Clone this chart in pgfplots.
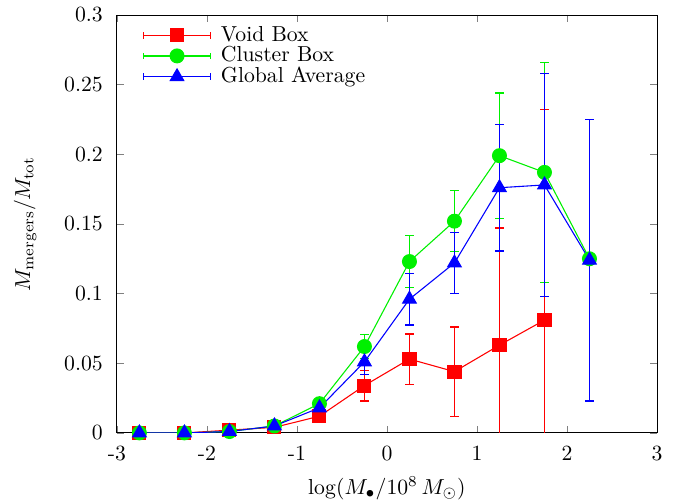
\documentclass[border=0pt]{standalone}
\usepackage{pgfplots}
\pgfplotsset{compat=1.18}
\definecolor{gpred}{RGB}{255,0,0}
\definecolor{gpgreen}{RGB}{0,240,0}
\definecolor{gpblue}{RGB}{0,0,255}
\begin{document}
\begin{tikzpicture}
\begin{axis}[
    width=249pt, height=192.7pt,
    scale only axis,
    xmin=-3, xmax=3,
    ymin=0, ymax=0.3,
    xtick={-3,-2,...,3},
    xticklabels={-3,-2,-1,0,1,2,3},
    ytick={0,0.05,...,0.3},
    yticklabels={0,0.05,0.1,0.15,0.2,0.25,0.3},
    xticklabel style={yshift=-2.5pt},
    yticklabel style={xshift=-3pt},
    tick align=inside,
    major tick length=3.4pt,
    xlabel={$\log(M_\bullet/10^8\,M_\odot)$},
    ylabel={$M_{\rm mergers}/M_{\rm tot}$},
    xlabel style={at={(axis description cs:0.5,-0.132)}, anchor=center},
    ylabel style={at={(axis description cs:-0.17,0.5)}, anchor=center},
    legend style={at={(0.035,0.995)}, anchor=north west, draw=none, fill=none,
        font=\normalsize, row sep=-3pt},
    legend cell align=left,
    legend image code/.code={
        \draw[#1,mark=none,line width=0.6pt] (0cm,0cm) -- (1.09cm,0cm);
        \draw[#1,mark=none,line width=0.6pt] (0cm,-1.5pt) -- (0cm,1.5pt);
        \draw[#1,mark=none,line width=0.6pt] (1.09cm,-1.5pt) -- (1.09cm,1.5pt);
        \draw[#1] plot coordinates {(0.545cm,0cm)};
        \path (1.09cm,0cm) ++(2.5pt,0pt);
    },
    every axis plot/.append style={line width=0.5pt},
]

% Void Box
\addplot[color=gpred, mark=square*, mark size=3pt,
    error bars/y dir=both, error bars/y explicit,
    error bars/error bar style={line width=0.6pt, draw=gpred},
    error bars/error mark options={rotate=90, mark size=2pt, line width=0.6pt, draw=gpred}] coordinates {
    (-2.75,0.000) +- (0,0)
    (-2.25,0.000) +- (0,0)
    (-1.75,0.002) +- (0,0)
    (-1.25,0.004) +- (0,0)
    (-0.75,0.012) +- (0,0.002)
    (-0.25,0.034) +- (0,0.011)
    (0.25,0.053) +- (0,0.018)
    (0.75,0.044) +- (0,0.032)
    (1.25,0.063) +- (0,0.084)
    (1.75,0.081) +- (0,0.151)
};
\addlegendentry{Void Box}

% Cluster Box
\addplot[color=gpgreen, mark=*, mark size=3.2pt,
    error bars/y dir=both, error bars/y explicit,
    error bars/error bar style={line width=0.6pt, draw=gpgreen},
    error bars/error mark options={rotate=90, mark size=2pt, line width=0.6pt, draw=gpgreen}] coordinates {
    (-2.75,0.000) +- (0,0)
    (-2.25,0.000) +- (0,0)
    (-1.75,0.001) +- (0,0)
    (-1.25,0.005) +- (0,0)
    (-0.75,0.021) +- (0,0.002)
    (-0.25,0.062) +- (0,0.0085)
    (0.25,0.123) +- (0,0.0185)
    (0.75,0.152) +- (0,0.022)
    (1.25,0.199) +- (0,0.045)
    (1.75,0.187) +- (0,0.079)
    (2.25,0.125) +- (0,0)
};
\addlegendentry{Cluster Box}

% Global Average
\addplot[color=gpblue, mark=triangle*, mark size=3.6pt,
    error bars/y dir=both, error bars/y explicit,
    error bars/error bar style={line width=0.6pt, draw=gpblue},
    error bars/error mark options={rotate=90, mark size=2pt, line width=0.6pt, draw=gpblue}] coordinates {
    (-2.75,0.000) +- (0,0)
    (-2.25,0.000) +- (0,0)
    (-1.75,0.001) +- (0,0)
    (-1.25,0.005) +- (0,0)
    (-0.75,0.018) +- (0,0.002)
    (-0.25,0.051) +- (0,0.009)
    (0.25,0.096) +- (0,0.0185)
    (0.75,0.122) +- (0,0.022)
    (1.25,0.176) +- (0,0.0455)
    (1.75,0.178) +- (0,0.080)
    (2.25,0.124) +- (0,0.101)
};
\addlegendentry{Global Average}

\end{axis}
\pgfresetboundingbox
\useasboundingbox ([xshift=-53.9pt,yshift=-31.8pt]current axis.south west)
    rectangle ([xshift=14.3pt,yshift=6.9pt]current axis.north east);
\end{tikzpicture}
\end{document}
